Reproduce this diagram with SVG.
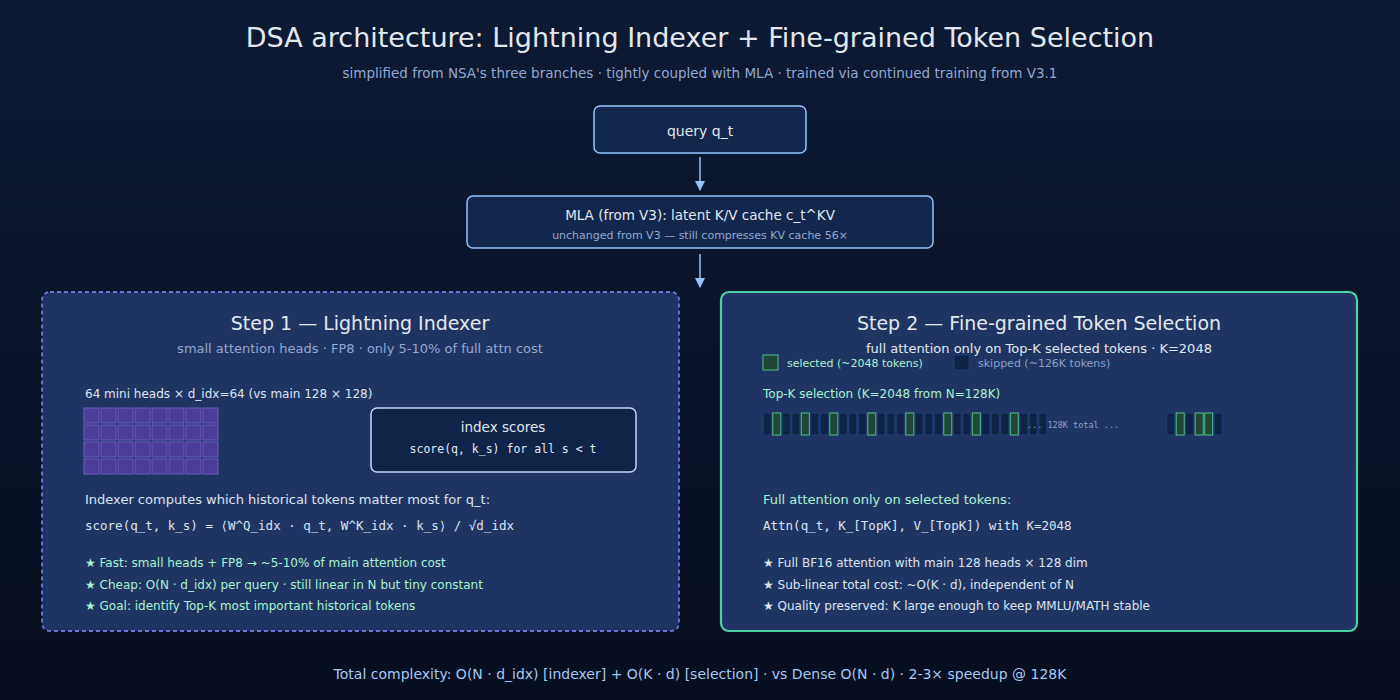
<svg xmlns="http://www.w3.org/2000/svg" width="1400" height="700" viewBox="0 0 1400 700">
<defs>
<linearGradient id="bg" x1="0" y1="0" x2="0" y2="1"><stop offset="0" stop-color="#0d1a33"/><stop offset="1" stop-color="#070e1f"/></linearGradient>
<marker id="ah" markerWidth="10" markerHeight="10" refX="9" refY="5" orient="auto" markerUnits="userSpaceOnUse"><path d="M0,0 L10,5 L0,10 z" fill="#93c5fd"/></marker>
<style>
text{font-family:"DejaVu Sans",sans-serif}
.mono{font-family:"DejaVu Sans Mono",monospace}
.h{fill:#e2e8f0;text-anchor:middle}
.sub{fill:#93a8d0;text-anchor:middle;font-size:11px}
.cell{fill:#4c3d99;stroke:#6d5cc4;stroke-width:1}
.tk{fill:#0f2347;stroke:#1e3d74;stroke-width:1}
.sel{fill:#1f4636;stroke:#4fbf8a;stroke-width:1}
.g{fill:#a7f3d0;font-size:12px}
.w{fill:#dbe4f3;font-size:12px}
</style>
</defs>
<rect width="1400" height="700" fill="url(#bg)"/>
<text x="700" y="47" class="h" font-size="27" fill="#f1f5f9">DSA architecture: Lightning Indexer + Fine-grained Token Selection</text>
<text x="700" y="78" class="sub" font-size="13.5" style="font-size:13.5px">simplified from NSA's three branches · tightly coupled with MLA · trained via continued training from V3.1</text>

<g id="connectors" stroke="#93c5fd" stroke-width="1.5" fill="none">
<line x1="700" y1="157" x2="700" y2="190" marker-end="url(#ah)"/>
<line x1="700" y1="254" x2="700" y2="287" marker-end="url(#ah)"/>
<line x1="223" y1="442" x2="366" y2="442" marker-end="url(#ah)"/>
</g>

<g id="query">
<rect x="594" y="106" width="212" height="47" rx="6" fill="#13264d" stroke="#93c5fd" stroke-width="1.5"/>
<text x="700" y="136" class="h" font-size="14">query q_t</text>
</g>
<g id="mla">
<rect x="467" y="196" width="466" height="52" rx="6" fill="#13264d" stroke="#93c5fd" stroke-width="1.5"/>
<text x="700" y="220" class="h" font-size="13.5">MLA (from V3): latent K/V cache c_t^KV</text>
<text x="700" y="239" class="sub">unchanged from V3 — still compresses KV cache 56×</text>
</g>

<g id="step1">
<rect x="42" y="292" width="637" height="339" rx="8" fill="#203463" stroke="#6f73d6" stroke-width="1.8" stroke-dasharray="4,3"/>
<text x="360" y="330" class="h" font-size="19" fill="#c7d2fe">Step 1 — Lightning Indexer</text>
<text x="360" y="353" class="sub" style="font-size:13px" fill="#a5b4fc">small attention heads · FP8 · only 5-10% of full attn cost</text>
<text x="85" y="398" class="w" style="font-size:12px">64 mini heads × d_idx=64 (vs main 128 × 128)</text>
<g>
<rect class="cell" x="84" y="408" width="15" height="15"/><rect class="cell" x="101" y="408" width="15" height="15"/><rect class="cell" x="118" y="408" width="15" height="15"/><rect class="cell" x="135" y="408" width="15" height="15"/><rect class="cell" x="152" y="408" width="15" height="15"/><rect class="cell" x="169" y="408" width="15" height="15"/><rect class="cell" x="186" y="408" width="15" height="15"/><rect class="cell" x="203" y="408" width="15" height="15"/>
<rect class="cell" x="84" y="425" width="15" height="15"/><rect class="cell" x="101" y="425" width="15" height="15"/><rect class="cell" x="118" y="425" width="15" height="15"/><rect class="cell" x="135" y="425" width="15" height="15"/><rect class="cell" x="152" y="425" width="15" height="15"/><rect class="cell" x="169" y="425" width="15" height="15"/><rect class="cell" x="186" y="425" width="15" height="15"/><rect class="cell" x="203" y="425" width="15" height="15"/>
<rect class="cell" x="84" y="442" width="15" height="15"/><rect class="cell" x="101" y="442" width="15" height="15"/><rect class="cell" x="118" y="442" width="15" height="15"/><rect class="cell" x="135" y="442" width="15" height="15"/><rect class="cell" x="152" y="442" width="15" height="15"/><rect class="cell" x="169" y="442" width="15" height="15"/><rect class="cell" x="186" y="442" width="15" height="15"/><rect class="cell" x="203" y="442" width="15" height="15"/>
<rect class="cell" x="84" y="459" width="15" height="15"/><rect class="cell" x="101" y="459" width="15" height="15"/><rect class="cell" x="118" y="459" width="15" height="15"/><rect class="cell" x="135" y="459" width="15" height="15"/><rect class="cell" x="152" y="459" width="15" height="15"/><rect class="cell" x="169" y="459" width="15" height="15"/><rect class="cell" x="186" y="459" width="15" height="15"/><rect class="cell" x="203" y="459" width="15" height="15"/>
</g>
<g id="index-scores">
<rect x="371" y="408" width="265" height="64" rx="6" fill="#10244a" stroke="#c7d2fe" stroke-width="1.5"/>
<text x="503" y="432" class="h" font-size="13.5">index scores</text>
<text x="503" y="453" class="h mono" font-size="11.5">score(q, k_s) for all s &lt; t</text>
</g>
<text x="85" y="504" class="w" style="font-size:13px">Indexer computes which historical tokens matter most for q_t:</text>
<text x="85" y="530" class="w mono" style="font-size:12.5px">score(q_t, k_s) = ⟨W^Q_idx · q_t, W^K_idx · k_s⟩ / √d_idx</text>
<text x="85" y="567" class="g">★ Fast: small heads + FP8 → ~5-10% of main attention cost</text>
<text x="85" y="589" class="g">★ Cheap: O(N · d_idx) per query · still linear in N but tiny constant</text>
<text x="85" y="610" class="g">★ Goal: identify Top-K most important historical tokens</text>
</g>

<g id="step2">
<rect x="721" y="292" width="636" height="339" rx="8" fill="#203463" stroke="#4fd1a5" stroke-width="2.2"/>
<text x="1039" y="330" class="h" font-size="19" fill="#a7f3d0">Step 2 — Fine-grained Token Selection</text>
<text x="1039" y="353" class="h" font-size="13" fill="#e2e8f0">full attention only on Top-K selected tokens · K=2048</text>
<rect class="sel" x="763" y="355" width="15" height="15"/>
<text x="787" y="367" style="font-size:11px" fill="#a7f3d0">selected (~2048 tokens)</text>
<rect class="tk" x="954" y="355" width="15" height="15"/>
<text x="978" y="367" style="font-size:11px" fill="#8aa0c8">skipped (~126K tokens)</text>
<text x="763" y="398" class="g">Top-K selection (K=2048 from N=128K)</text>
<g>
<rect class="tk" x="763.3" y="413" width="8" height="22"/><rect class="sel" x="772.8" y="413" width="8" height="22"/><rect class="tk" x="782.3" y="413" width="8" height="22"/><rect class="tk" x="791.8" y="413" width="8" height="22"/><rect class="sel" x="801.3" y="413" width="8" height="22"/><rect class="tk" x="810.8" y="413" width="8" height="22"/><rect class="tk" x="820.3" y="413" width="8" height="22"/><rect class="sel" x="829.8" y="413" width="8" height="22"/><rect class="tk" x="839.3" y="413" width="8" height="22"/><rect class="tk" x="848.8" y="413" width="8" height="22"/>
<rect class="tk" x="858.3" y="413" width="8" height="22"/><rect class="sel" x="867.8" y="413" width="8" height="22"/><rect class="tk" x="877.3" y="413" width="8" height="22"/><rect class="tk" x="886.8" y="413" width="8" height="22"/><rect class="tk" x="896.3" y="413" width="8" height="22"/><rect class="sel" x="905.8" y="413" width="8" height="22"/><rect class="tk" x="915.3" y="413" width="8" height="22"/><rect class="tk" x="924.8" y="413" width="8" height="22"/><rect class="tk" x="934.3" y="413" width="8" height="22"/><rect class="sel" x="943.8" y="413" width="8" height="22"/>
<rect class="tk" x="953.3" y="413" width="8" height="22"/><rect class="tk" x="962.8" y="413" width="8" height="22"/><rect class="sel" x="972.3" y="413" width="8" height="22"/><rect class="tk" x="981.8" y="413" width="8" height="22"/><rect class="tk" x="991.3" y="413" width="8" height="22"/><rect class="tk" x="1000.8" y="413" width="8" height="22"/><rect class="sel" x="1010.3" y="413" width="8" height="22"/><rect class="tk" x="1019.8" y="413" width="8" height="22"/><rect class="tk" x="1029.3" y="413" width="8" height="22"/><rect class="tk" x="1038.8" y="413" width="8" height="22"/>
<rect class="tk" x="1166.7" y="413" width="8" height="22"/><rect class="sel" x="1176.2" y="413" width="8" height="22"/><rect class="tk" x="1185.7" y="413" width="8" height="22"/><rect class="sel" x="1195.2" y="413" width="8" height="22"/><rect class="sel" x="1204.7" y="413" width="8" height="22"/><rect class="tk" x="1214.2" y="413" width="8" height="22"/>
</g>
<text x="1027" y="428" class="mono" style="font-size:8.5px" fill="#8aa0c8">... 128K total ...</text>
<text x="763" y="504" class="g" style="font-size:13px">Full attention only on selected tokens:</text>
<text x="763" y="530" class="w mono" style="font-size:12.5px">Attn(q_t, K_[TopK], V_[TopK]) with K=2048</text>
<text x="763" y="567" class="w">★ Full BF16 attention with main 128 heads × 128 dim</text>
<text x="763" y="589" class="w">★ Sub-linear total cost: ~O(K · d), independent of N</text>
<text x="763" y="610" class="w">★ Quality preserved: K large enough to keep MMLU/MATH stable</text>
</g>

<text x="700" y="679" class="h" font-size="14" fill="#93c5fd" style="fill:#a5c8f5">Total complexity: O(N · d_idx) [indexer] + O(K · d) [selection] · vs Dense O(N · d) · 2-3× speedup @ 128K</text>
</svg>
